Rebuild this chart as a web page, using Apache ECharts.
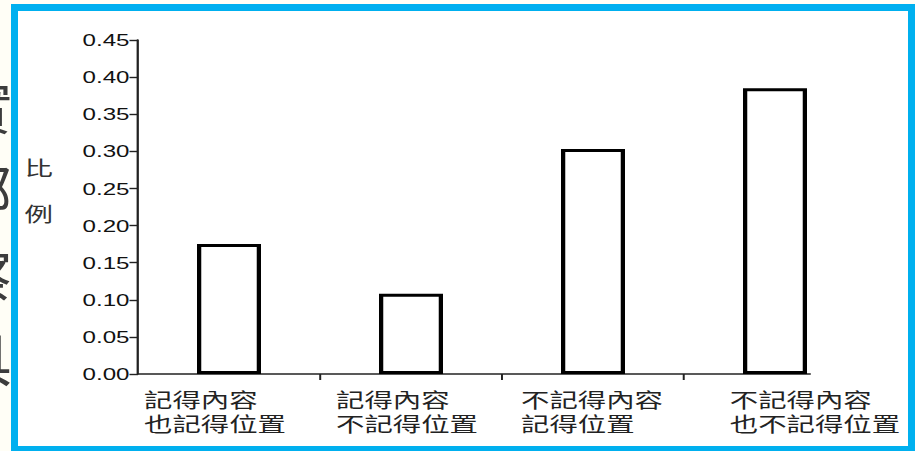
<!DOCTYPE html>
<html>
<head>
<meta charset="utf-8">
<script src="https://cdn.jsdelivr.net/npm/echarts@6/dist/echarts.min.js"></script>
<style>
  html, body { margin: 0; padding: 0; width: 915px; height: 451px; overflow: hidden; background: #fffef6; }
  #bigtext { position: absolute; left: -45px; top: 62px; width: 60px; font-family: "Noto Sans CJK TC", sans-serif;
             font-size: 57px; line-height: 84px; color: #3c3c3c; }
  #frame { position: absolute; left: 11px; top: 4px; width: 904px; height: 449px; box-sizing: border-box;
           border: 7px solid #00b0ef; background: #ffffff; }
  #chart { position: absolute; left: 0; top: 0; width: 644px; height: 451px; transform: scaleX(1.42); transform-origin: 0 0; }
</style>
</head>
<body>
<div id="bigtext">實<br>部<br>察<br>具<br>）</div>
<div id="frame"></div>
<div id="chart"></div>
<script>
// ---- data ----
const categories = ['記得內容\n也記得位置', '記得內容\n不記得位置', '不記得內容\n記得位置', '不記得內容\n也不記得位置'];
const values = [0.175, 0.108, 0.303, 0.385];
const yAxisName = ['比', '例'];
const yMin = 0, yMax = 0.45, yStep = 0.05;

// ---- layout (inner, pre-stretch units) ----
const SX = 1.42;
const px = v => v / SX;            // page x px -> inner px
const labelShiftPage = [-14, -4, -1, 40];
const CJK = '"Liberation Sans", "Noto Sans CJK TC", sans-serif';

const catData = categories.map((c, i) => {
  const s = px(labelShiftPage[i]);
  const pad = s >= 0 ? [0, 0, 0, 2 * s] : [0, -2 * s, 0, 0];
  return { value: c, textStyle: { padding: pad } };
});

const chart = echarts.init(document.getElementById('chart'), null, { renderer: 'svg' });
chart.setOption({
  animation: false,
  grid: [
    { left: px(138), right: 644 - px(866), top: 40, bottom: 77 },
    { left: px(138), right: 644 - px(810), top: 40, bottom: 77 }
  ],
  xAxis: [
    {
      type: 'category', gridIndex: 0, data: catData,
      axisLine: { show: false }, axisTick: { show: false },
      axisLabel: {
        margin: 15, interval: 0,
        formatter: v => v.split('\n').map(l => '{a|' + l + '}').join('\n'),
        rich: { a: { align: 'left', fontSize: 20, lineHeight: 24, color: '#222', fontFamily: CJK } }
      }
    },
    {
      type: 'value', gridIndex: 1, min: 0, max: (810 - 138) / 182,
      axisLine: { show: true, lineStyle: { color: '#222', width: 1.6 } },
      axisTick: { show: true, length: 6, customValues: [1, 2, 3], lineStyle: { color: '#222', width: 1.4 } },
      axisLabel: { show: false }, splitLine: { show: false }
    }
  ],
  yAxis: [
    {
      type: 'value', gridIndex: 0, min: yMin, max: yMax, interval: yStep,
      name: yAxisName.map(c => '{a|' + c + '}').join('\n') + '\n{b| }',
      nameLocation: 'middle', nameRotate: 0, nameGap: px(138 - 53),
      nameTextStyle: {
        rich: {
          a: { fontSize: 20, lineHeight: 46, color: '#333', fontFamily: CJK },
          b: { fontSize: 10, lineHeight: 30 }
        }
      },
      axisLine: { show: true, lineStyle: { color: '#222', width: 1.6 } },
      axisTick: { show: true, length: 6, lineStyle: { color: '#222', width: 1.4 } },
      axisLabel: { margin: 6, fontSize: 17, color: '#111', fontFamily: '"Liberation Sans", Arial, sans-serif',
                   formatter: v => v.toFixed(2) },
      splitLine: { show: false }
    },
    { type: 'value', gridIndex: 1, min: 0, max: 1, show: false }
  ],
  series: [{
    type: 'bar', xAxisIndex: 0, yAxisIndex: 0, data: values,
    barWidth: px(64),
    itemStyle: { color: '#ffffff', borderColor: '#000000', borderWidth: 3 }
  }]
});
</script>
</body>
</html>
